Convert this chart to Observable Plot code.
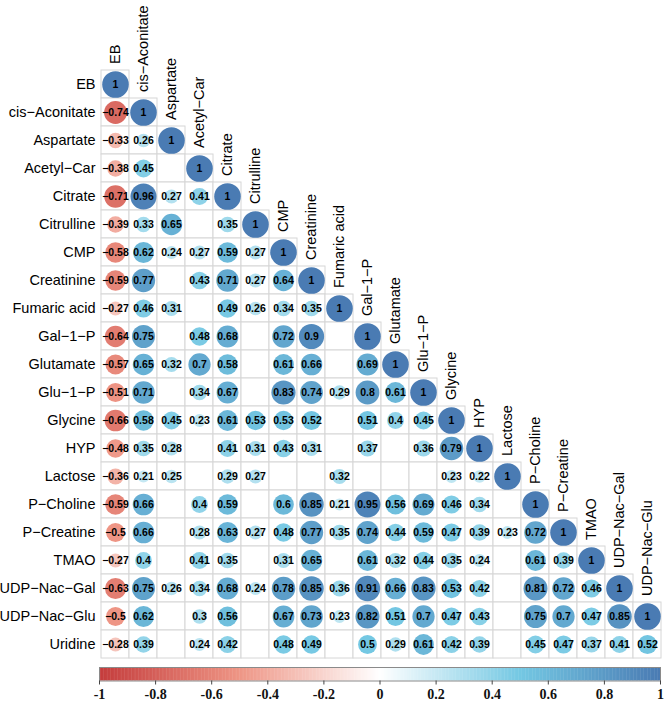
<!DOCTYPE html>
<html><head><meta charset="utf-8">
<script src="https://cdn.jsdelivr.net/npm/d3@7"></script>
<script src="https://cdn.jsdelivr.net/npm/@observablehq/plot@0.6"></script>
<style>body{margin:0;background:#fff;} svg{display:block;}</style>
</head><body><div id="chart"></div>
<script>
const variables = ["EB","cis−Aconitate","Aspartate","Acetyl−Car","Citrate","Citrulline","CMP","Creatinine","Fumaric acid","Gal−1−P","Glutamate","Glu−1−P","Glycine","HYP","Lactose","P−Choline","P−Creatine","TMAO","UDP−Nac−Gal","UDP−Nac−Glu","Uridine"];
const columns = variables.slice(0, 20);
// lower-triangle correlations, row by row (null = blank cell)
const corrRows = [
  [1],
  [-0.74, 1],
  [-0.33, 0.26, 1],
  [-0.38, 0.45, null, 1],
  [-0.71, 0.96, 0.27, 0.41, 1],
  [-0.39, 0.33, 0.65, null, 0.35, 1],
  [-0.58, 0.62, 0.24, 0.27, 0.59, 0.27, 1],
  [-0.59, 0.77, null, 0.43, 0.71, 0.27, 0.64, 1],
  [-0.27, 0.46, 0.31, null, 0.49, 0.26, 0.34, 0.35, 1],
  [-0.64, 0.75, null, 0.48, 0.68, null, 0.72, 0.9, null, 1],
  [-0.57, 0.65, 0.32, 0.7, 0.58, null, 0.61, 0.66, null, 0.69, 1],
  [-0.51, 0.71, null, 0.34, 0.67, null, 0.83, 0.74, 0.29, 0.8, 0.61, 1],
  [-0.66, 0.58, 0.45, 0.23, 0.61, 0.53, 0.53, 0.52, null, 0.51, 0.4, 0.45, 1],
  [-0.48, 0.35, 0.28, null, 0.41, 0.31, 0.43, 0.31, null, 0.37, null, 0.36, 0.79, 1],
  [-0.36, 0.21, 0.25, null, 0.29, 0.27, null, null, 0.32, null, null, null, 0.23, 0.22, 1],
  [-0.59, 0.66, null, 0.4, 0.59, null, 0.6, 0.85, 0.21, 0.95, 0.56, 0.69, 0.46, 0.34, null, 1],
  [-0.5, 0.66, null, 0.28, 0.63, 0.27, 0.48, 0.77, 0.35, 0.74, 0.44, 0.59, 0.47, 0.39, 0.23, 0.72, 1],
  [-0.27, 0.4, null, 0.41, 0.35, null, 0.31, 0.65, null, 0.61, 0.32, 0.44, 0.35, 0.24, null, 0.61, 0.39, 1],
  [-0.63, 0.75, 0.26, 0.34, 0.68, 0.24, 0.78, 0.85, 0.36, 0.91, 0.66, 0.83, 0.53, 0.42, null, 0.81, 0.72, 0.46, 1],
  [-0.5, 0.62, null, 0.3, 0.56, null, 0.67, 0.73, 0.23, 0.82, 0.51, 0.7, 0.47, 0.43, null, 0.75, 0.7, 0.47, 0.85, 1],
  [-0.28, 0.39, null, 0.24, 0.42, null, 0.48, 0.49, null, 0.5, 0.29, 0.61, 0.42, 0.39, null, 0.45, 0.47, 0.37, 0.41, 0.52]
];
const colorStops = [-1, -0.5, 0, 0.5, 1];
const colorRange = ["#C43C3C", "#EE9585", "#FFFFFF", "#74C8E3", "#4A7BB3"];
const legendTicks = [-1, -0.8, -0.6, -0.4, -0.2, 0, 0.2, 0.4, 0.6, 0.8, 1];

const cells = [];
corrRows.forEach((vals, i) => {
  for (let j = 0; j <= i && j < columns.length; j++) {
    cells.push({row: variables[i], col: columns[j], v: vals[j] ?? null});
  }
});
const filled = cells.filter(d => d.v != null);
const fmt = v => String(Math.round(v * 100) / 100).replace("-", "−");
const colorScale = {type: "linear", domain: colorStops, range: colorRange};
const font = "'Liberation Sans', Arial, sans-serif";

const main = Plot.plot({
  width: 664, height: 662,
  marginLeft: 99, marginRight: 2, marginTop: 68.6, marginBottom: 2,
  x: {domain: columns, type: "band", padding: 0, axis: null},
  y: {domain: variables, type: "band", padding: 0},
  r: {type: "sqrt", domain: [0, 1], range: [0, 13.3]},
  color: colorScale,
  style: {fontFamily: font, fontSize: "14.5px", color: "#000", background: "#fff", overflow: "visible"},
  marks: [
    Plot.cell(cells, {x: "col", y: "row", fill: "white", stroke: "#d6d6d6", inset: 0}),
    Plot.dot(filled, {x: "col", y: "row", r: d => Math.abs(d.v), fill: "v"}),
    Plot.text(filled, {x: "col", y: "row", text: d => fmt(d.v), fontSize: 10.5, fontWeight: "bold", fill: "black"}),
    Plot.axisY({tickSize: 0, tickPadding: 4, fontSize: 14.5, label: null}),
    Plot.text(columns, {x: d => d, y: d => d, text: d => d, rotate: -90, textAnchor: "start", dy: -20.5, fontSize: 14.5, fill: "black"})
  ]
});

const nSteps = 400;
const steps = d3.range(nSteps).map(i => -1 + i * 2 / nSteps);
const legend = Plot.plot({
  width: 664, height: 39,
  marginLeft: 99, marginRight: 4, marginTop: 5, marginBottom: 20.5,
  x: {domain: [-1, 1], axis: null},
  y: {domain: [0, 1], axis: null},
  color: colorScale,
  style: {fontFamily: font, color: "#000", background: "#fff", overflow: "visible"},
  marks: [
    Plot.rect(steps, {x1: d => d, x2: d => Math.min(1, d + 2.6 / nSteps), y1: 0, y2: 1, fill: d => d + 1 / nSteps}),
    Plot.frame({stroke: "#8a8a8a"}),
    Plot.axisX({ticks: legendTicks, tickSize: 4, tickFormat: () => "", stroke: "#444", label: null}),
    Plot.text(legendTicks, {x: d => d, text: d => String(d), frameAnchor: "bottom", lineAnchor: "bottom", dy: 17.5,
      fontFamily: "'Liberation Serif', 'DejaVu Serif', serif", fontWeight: 700, fontSize: 14, fill: "#111"})
  ]
});

document.getElementById("chart").append(main, legend);
</script>
</body></html>
